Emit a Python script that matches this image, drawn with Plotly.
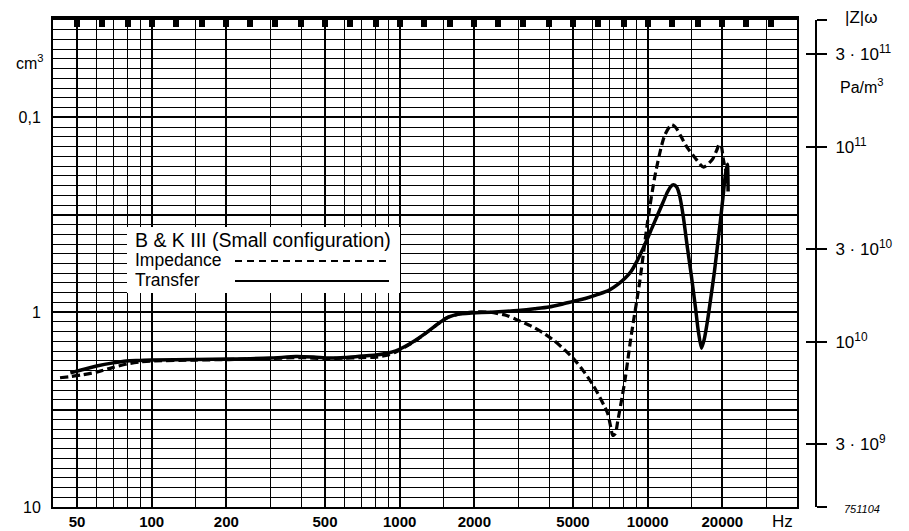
import numpy as np
import plotly.graph_objects as go

# ---------------- data ----------------
transfer_freq_hz = [47, 52, 60, 70, 79, 90, 100, 150, 205, 300, 382, 450, 519, 600, 703, 800, 900, 964,
                    1050, 1150, 1307, 1450, 1570, 1750, 1950, 2340, 2700, 3000, 3500, 4000, 4500, 5000,
                    5600, 6300, 7000, 7580, 8100, 8550, 9100, 9730, 10400, 10970, 11500, 12030, 12400,
                    12710, 13100, 13430, 13900, 14470, 15000, 15590, 16000, 16480, 16900, 17420, 18000,
                    18580, 19100, 19640, 20100, 20560, 20950, 21100]
transfer_volume_cm3 = [2.05, 1.98, 1.89, 1.82, 1.78, 1.77, 1.76, 1.75, 1.74, 1.72, 1.69, 1.70, 1.72, 1.71,
                       1.68, 1.66, 1.62, 1.58, 1.50, 1.40, 1.25, 1.13, 1.06, 1.02, 1.01, 1.00, 0.99, 0.98,
                       0.96, 0.94, 0.91, 0.88, 0.85, 0.81, 0.77, 0.72, 0.67, 0.62, 0.54, 0.45, 0.37, 0.316,
                       0.275, 0.241, 0.226, 0.222, 0.228, 0.25, 0.32, 0.47, 0.65, 0.95, 1.25, 1.53, 1.38,
                       1.11, 0.83, 0.62, 0.46, 0.34, 0.26, 0.198, 0.174, 0.24]

impedance_freq_hz = [42.7, 47, 52, 60, 70, 80, 90, 100, 150, 205, 300, 400, 500, 600, 700, 800, 900, 964,
                     1050, 1150, 1307, 1450, 1570, 1750, 1950, 2300, 2700, 3000, 3400, 3800, 4200, 4600,
                     5000, 5500, 6000, 6300, 6700, 6900, 7100, 7230, 7400, 7580, 8090, 8550, 9290, 10000,
                     10770, 11700, 12480, 13000, 13570, 14400, 15450, 16790, 18250, 19000, 19460, 19800,
                     20200, 20700]
impedance_volume_cm3 = [2.17, 2.14, 2.10, 2.03, 1.92, 1.84, 1.80, 1.78, 1.76, 1.75, 1.73, 1.71, 1.73, 1.72,
                        1.71, 1.70, 1.66, 1.60, 1.51, 1.41, 1.25, 1.13, 1.06, 1.02, 1.00, 1.00, 1.04, 1.10,
                        1.18, 1.28, 1.40, 1.55, 1.72, 2.0, 2.35, 2.62, 3.05, 3.31, 3.9, 4.29, 4.2, 3.6, 2.25,
                        1.36, 0.695, 0.34, 0.191, 0.124, 0.109, 0.113, 0.124, 0.142, 0.16, 0.18, 0.164,
                        0.147, 0.137, 0.14, 0.165, 0.19]

x_major_ticks = [50, 100, 200, 500, 1000, 2000, 5000, 10000, 20000]
x_major_labels = ["50", "100", "200", "500", "1000", "2000", "5000", "10000", "20000"]
x_minor_grid = [60, 70, 80, 90, 150, 300, 400, 600, 700, 800, 900, 1500, 3000, 4000, 6000, 7000,
                8000, 9000, 15000, 30000]
third_octave_marks = [40, 50, 63, 80, 100, 125, 160, 200, 250, 315, 400, 500, 630, 800, 1000, 1250,
                      1600, 2000, 2500, 3150, 4000, 5000, 6300, 8000, 10000, 12500, 16000, 20000,
                      25000, 31500, 40000]
y_label_vals = [0.1, 1, 10]
y_label_text = ["0,1", "1", "10"]
z_tick_vals = [3e9, 1e10, 3e10, 1e11, 3e11]
z_tick_text = ["3 · 10<sup>9</sup>", "10<sup>10</sup>", "3 · 10<sup>10</sup>",
               "10<sup>11</sup>", "3 · 10<sup>11</sup>"]

F_MIN, F_MAX = 40, 40000
DB_RANGE = 50                   # recording paper height in dB
V_BOTTOM = 10.0                 # cm^3 at the bottom edge
V_TOP = V_BOTTOM * 10 ** (-DB_RANGE / 20)
ZW_CONST = 1.42e10              # |Z|w = ZW_CONST / V(cm^3)

# ---------------- geometry (page body adds an 8px offset) ----------------
OFF = 8
W, H = 909 - OFF, 531 - OFF
ML, MR, MT, MB = 53 - OFF, 60, 20 - OFF, 24
PW, PH = W - ML - MR, H - MT - MB
def px(x):  # screen x -> paper fraction
    return (x - OFF - ML) / PW
def py(y):  # screen y -> paper fraction
    return 1 - (y - OFF - MT) / PH

FONT = "Liberation Sans, Arial, Helvetica, sans-serif"

# y grid: every 1 dB, heavier every 10 dB
db_vals = [V_BOTTOM * 10 ** (-k / 20) for k in range(DB_RANGE + 1)]
y_major = [v for k, v in enumerate(db_vals) if k % 10 == 0]
y_minor = [v for k, v in enumerate(db_vals) if k % 10 != 0]
y_major_text = []
for v in y_major:
    t = ""
    for lv, lt in zip(y_label_vals, y_label_text):
        if abs(np.log10(v) - np.log10(lv)) < 1e-6:
            t = lt
    y_major_text.append(t)

fig = go.Figure()

fig.add_trace(go.Scatter(x=impedance_freq_hz, y=impedance_volume_cm3, mode="lines",
                         line=dict(color="black", width=3.2, dash="8px,4px", shape="spline", smoothing=0.7),
                         name="Impedance", hoverinfo="skip"))
fig.add_trace(go.Scatter(x=transfer_freq_hz, y=transfer_volume_cm3, mode="lines",
                         line=dict(color="black", width=3.5, shape="spline", smoothing=0.7),
                         name="Transfer", hoverinfo="skip"))
# invisible helpers so overlay axes get drawn
fig.add_trace(go.Scatter(x=[100], y=[1], xaxis="x2", yaxis="y", mode="markers",
                         marker=dict(opacity=0), showlegend=False, hoverinfo="skip"))
fig.add_trace(go.Scatter(x=[100], y=[1e10], xaxis="x", yaxis="y2", mode="markers",
                         marker=dict(opacity=0), showlegend=False, hoverinfo="skip"))
fig.add_trace(go.Scatter(x=[100], y=[1e10], xaxis="x", yaxis="y3", mode="markers",
                         marker=dict(opacity=0), showlegend=False, hoverinfo="skip"))

x_end = px(797)
xr = [np.log10(F_MIN), np.log10(F_MAX)]
z_lo = np.log10(ZW_CONST / V_BOTTOM)
z_hi = np.log10(ZW_CONST / V_TOP)
z_ticks_all = [10 ** (z_lo + 0.0004)] + z_tick_vals + [10 ** (z_hi - 0.0004)]
z_text_all = [""] + z_tick_text + [""]

fig.update_layout(
    width=W, height=H,
    margin=dict(l=ML, r=MR, t=MT, b=MB, autoexpand=False),
    paper_bgcolor="white", plot_bgcolor="white",
    showlegend=False,
    font=dict(family=FONT, color="black"),
    xaxis=dict(type="log", range=xr, domain=[0, x_end],
               tickmode="array", tickvals=x_major_ticks, ticktext=x_major_labels,
               tickfont=dict(size=15, weight="bold"), ticks="", ticklabelstandoff=0,
               showgrid=True, gridcolor="black", gridwidth=2,
               minor=dict(tickmode="array", tickvals=x_minor_grid, showgrid=True,
                          gridcolor="black", gridwidth=1.2, ticks=""),
               showline=True, linecolor="black", linewidth=1.6, zeroline=False),
    xaxis2=dict(type="log", range=xr, domain=[0, x_end], overlaying="x", side="top", anchor="y",
                tickmode="array", tickvals=third_octave_marks, ticks="inside", ticklen=7,
                tickwidth=6, tickcolor="black", showticklabels=False, showgrid=False,
                showline=True, linecolor="black", linewidth=4),
    yaxis=dict(type="log", range=[np.log10(V_BOTTOM), np.log10(V_TOP)],
               tickmode="array", tickvals=y_major, ticktext=y_major_text,
               tickfont=dict(size=16), ticks="", ticklabelstandoff=7,
               showgrid=True, gridcolor="black", gridwidth=1.7,
               minor=dict(tickmode="array", tickvals=y_minor, showgrid=True,
                          gridcolor="black", gridwidth=1.1, ticks=""),
               showline=True, linecolor="black", linewidth=2, mirror=True, zeroline=False),
    yaxis2=dict(type="log", range=[z_lo, z_hi], overlaying="y", anchor="free", position=px(816),
                side="right", tickmode="array", tickvals=z_ticks_all, ticktext=z_text_all,
                ticks="outside", ticklen=10, tickwidth=2, tickcolor="black",
                tickfont=dict(size=17), ticklabelstandoff=5,
                showgrid=False, showline=True, linecolor="black", linewidth=2, zeroline=False),
    yaxis3=dict(type="log", range=[z_lo, z_hi], overlaying="y", anchor="free", position=px(816),
                side="right", tickmode="array", tickvals=z_ticks_all, ticks="inside",
                ticklen=10, tickwidth=2, tickcolor="black", showticklabels=False,
                showgrid=False, showline=False, zeroline=False),
)

# legend box and entries (drawn as layout decorations)
fig.add_shape(type="rect", xref="paper", yref="paper", x0=px(127), x1=px(400), y0=py(293), y1=py(227),
              fillcolor="white", line=dict(width=0), layer="above")
fig.add_shape(type="line", xref="paper", yref="paper", x0=px(235), x1=px(389), y0=py(261), y1=py(261),
              line=dict(color="black", width=2, dash="7px,5px"), layer="above")
fig.add_shape(type="line", xref="paper", yref="paper", x0=px(235), x1=px(389), y0=py(281), y1=py(281),
              line=dict(color="black", width=2), layer="above")

def note(text, x, y, size=16, xanchor="left", italic=False):
    fig.add_annotation(text=text, xref="paper", yref="paper", x=px(x), y=py(y), xanchor=xanchor,
                       yanchor="middle", showarrow=False,
                       font=dict(family=FONT, size=size, color="black",
                                 style="italic" if italic else "normal"))

note("B &amp; K III (Small configuration)", 133, 240, size=19.5)
note("Impedance", 133, 260, size=17.5)
note("Transfer", 133, 280, size=17.5)
note("cm<sup>3</sup>", 46, 62, size=16, xanchor="right")
note("|Z|ω", 843, 17, size=17)
note("Pa/m<sup>3</sup>", 838, 86, size=16)
note("Hz", 770, 521, size=17)
note("751104", 842, 509, size=11, italic=True)

fig.write_html("out.html")
